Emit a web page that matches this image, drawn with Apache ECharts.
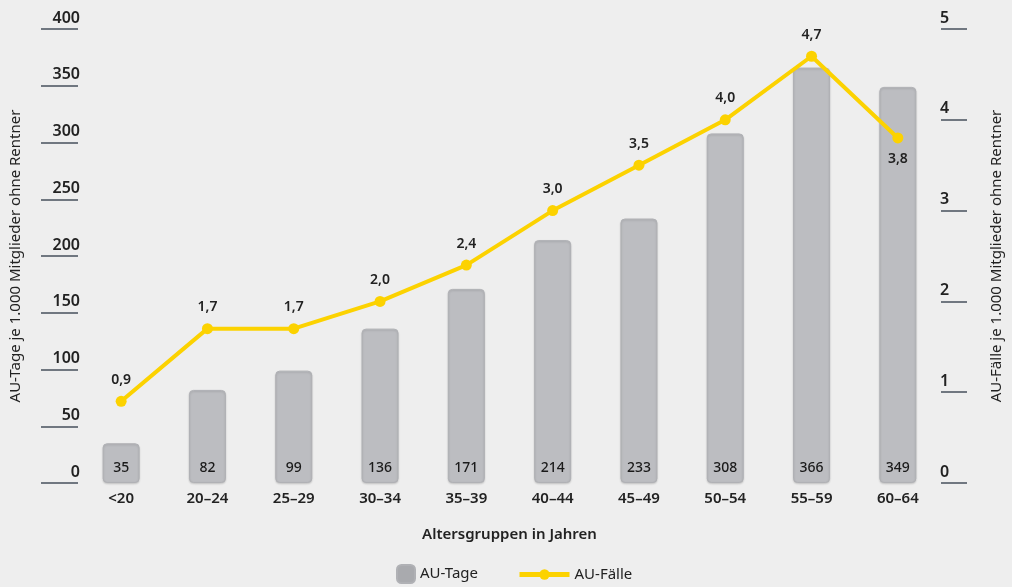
<!DOCTYPE html>
<html><head><meta charset="utf-8">
<script src="https://cdn.jsdelivr.net/npm/echarts@6/dist/echarts.min.js"></script>
<style>html,body{margin:0;padding:0;background:#eeeeee;}#c{width:1012px;height:587px;}</style>
</head><body><div id="c"></div>
<script>
const categories = ['<20','20–24','25–29','30–34','35–39','40–44','45–49','50–54','55–59','60–64'];
const auTage = [35,82,99,136,171,214,233,308,366,349];
const auFaelle = [0.9,1.7,1.7,2.0,2.4,3.0,3.5,4.0,4.7,3.8];
const leftTicks = [0,50,100,150,200,250,300,350,400];
const rightTicks = [0,1,2,3,4,5];

const FONT = '"Noto Sans", sans-serif';
const chart = echarts.init(document.getElementById('c'));
const lineData = auFaelle.map((v, i) => i === auFaelle.length - 1 ? {value: v, label: {position: 'bottom'}} : v);
chart.setOption({
  backgroundColor: '#eeeeee',
  textStyle: {fontFamily: FONT},
  grid: {left: 76, right: 70, top: 29, bottom: 104},
  legend: [
    {
      left: 396, top: 564, itemWidth: 18, itemHeight: 18, padding: 0,
      textStyle: {fontFamily: FONT, fontSize: 15, color: '#222'},
      data: [{name: 'AU-Tage', icon: 'roundRect', itemStyle: {color: '#a9aaae'}}]
    },
    {
      left: 517, top: 567, itemWidth: 50, itemHeight: 13, padding: 0,
      textStyle: {fontFamily: FONT, fontSize: 15, color: '#222'},
      data: [{name: 'AU-Fälle', lineStyle: {width: 5}}]
    }
  ],
  xAxis: {
    type: 'category', data: categories,
    axisLine: {show: false}, axisTick: {show: false},
    axisLabel: {color: '#222', fontSize: 15, fontWeight: 600, margin: 8, fontFamily: FONT},
    name: 'Altersgruppen in Jahren', nameLocation: 'middle', nameGap: 44,
    nameTextStyle: {color: '#222', fontSize: 15, fontWeight: 600, fontFamily: FONT}
  },
  yAxis: [
    {
      type: 'value', min: leftTicks[0], max: leftTicks[leftTicks.length-1], interval: 50,
      splitLine: {show: false}, axisLine: {show: false},
      axisTick: {show: true, length: 37, lineStyle: {color: '#707780', width: 2}},
      axisLabel: {color: '#222', fontSize: 16, fontWeight: 600, margin: -2, verticalAlign: 'bottom', padding: [0,0,3,0], fontFamily: FONT},
      name: 'AU-Tage je 1.000 Mitglieder ohne Rentner', nameLocation: 'middle', nameGap: 55, nameRotate: 90,
      nameTextStyle: {color: '#222', fontSize: 15, fontFamily: FONT}
    },
    {
      type: 'value', min: rightTicks[0], max: rightTicks[rightTicks.length-1], interval: 1,
      splitLine: {show: false}, axisLine: {show: false},
      axisTick: {show: true, length: 26, lineStyle: {color: '#707780', width: 2}},
      axisLabel: {color: '#222', fontSize: 16, fontWeight: 600, margin: -1, verticalAlign: 'bottom', padding: [0,0,3,0], fontFamily: FONT},
      name: 'AU-Fälle je 1.000 Mitglieder ohne Rentner', nameLocation: 'middle', nameGap: 48, nameRotate: 90,
      nameTextStyle: {color: '#222', fontSize: 15, fontFamily: FONT}
    }
  ],
  series: [
    {
      name: 'AU-Tage', type: 'bar', data: auTage, barWidth: 37, yAxisIndex: 0,
      itemStyle: {color: '#bcbdc1', borderRadius: 4, borderColor: '#b0b1b5', borderWidth: 1,
        shadowColor: 'rgba(0,0,0,0.15)', shadowBlur: 2, shadowOffsetY: 1},
      label: {show: true, position: 'insideBottom', distance: 8, color: '#1a1a1a', fontSize: 14, fontWeight: 500, fontFamily: FONT}
    },
    {
      name: 'AU-Fälle', type: 'line', data: lineData, yAxisIndex: 1,
      symbol: 'circle', symbolSize: 11,
      lineStyle: {color: '#fcd200', width: 4}, itemStyle: {color: '#fcd200'},
      label: {show: true, position: 'top', distance: 9, color: '#222', fontSize: 14, fontWeight: 600, fontFamily: FONT,
        formatter: p => p.value.toFixed(1).replace('.', ',')}
    }
  ]
});
</script></body></html>
